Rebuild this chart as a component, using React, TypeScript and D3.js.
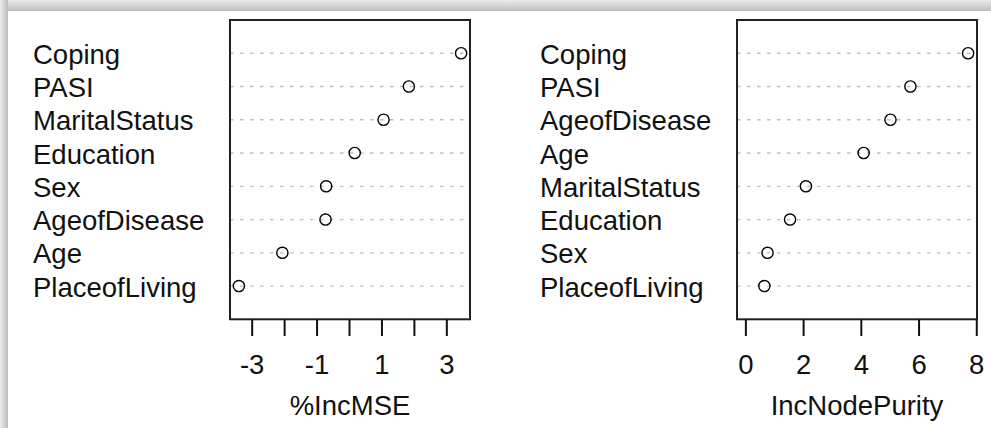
import React from "react";
import * as d3 from "d3";

// ---- Data (bottom row first, as in R's dotchart) ----
const mseLabels = ["PlaceofLiving", "Age", "AgeofDisease", "Sex", "Education", "MaritalStatus", "PASI", "Coping"];
const mseValues = [-3.41, -2.07, -0.74, -0.72, 0.16, 1.05, 1.83, 3.44];
const mseTicks = [-3, -2, -1, 0, 1, 2, 3];
const mseTickLabels = [-3, -1, 1, 3];
const mseTitle = "%IncMSE";

const purityLabels = ["PlaceofLiving", "Sex", "Education", "MaritalStatus", "Age", "AgeofDisease", "PASI", "Coping"];
const purityValues = [0.64, 0.75, 1.53, 2.08, 4.08, 5.01, 5.7, 7.7];
const purityTicks = [0, 2, 4, 6, 8];
const purityTickLabels = [0, 2, 4, 6, 8];
const purityTitle = "IncNodePurity";

const W = 991;
const H = 428;
const FONT = "'Liberation Sans', Arial, sans-serif";
const FS = 27.5;

type PanelProps = {
  labels: string[];
  values: number[];
  ticks: number[];
  tickLabels: number[];
  title: string;
  boxLeft: number;
  boxRight: number;
  labelX: number;
  zeroMin: boolean;
};

function Panel({ labels, values, ticks, tickLabels, title, boxLeft, boxRight, labelX, zeroMin }: PanelProps) {
  const boxTop = 20;
  const boxBottom = 319.3;
  let lo = d3.min(values) as number;
  const hi = d3.max(values) as number;
  if (zeroMin && lo > 0) lo = 0;
  const pad = (hi - lo) * 0.04;
  const x = d3.scaleLinear().domain([lo - pad, hi + pad]).range([boxLeft, boxRight]);
  const y = d3.scaleLinear().domain([0, labels.length + 1]).range([boxBottom, boxTop]);
  const cx = (boxLeft + boxRight) / 2;
  return (
    <g>
      {labels.map((lab, i) => (
        <g key={lab}>
          <line
            x1={boxLeft}
            x2={boxRight}
            y1={y(i + 1)}
            y2={y(i + 1)}
            stroke="#bebebe"
            strokeWidth={1.3}
            strokeDasharray="3.5 6.5"
          />
          <text x={labelX} y={y(i + 1) + 10.5} fontFamily={FONT} fontSize={FS} fill="#111">
            {lab}
          </text>
        </g>
      ))}
      {values.map((v, i) => (
        <circle key={i} cx={x(v)} cy={y(i + 1)} r={5.6} fill="none" stroke="#000" strokeWidth={1.4} />
      ))}
      <rect
        x={boxLeft}
        y={boxTop}
        width={boxRight - boxLeft}
        height={boxBottom - boxTop}
        fill="none"
        stroke="#222"
        strokeWidth={2}
      />
      {ticks.map((t) => (
        <line key={t} x1={x(t)} x2={x(t)} y1={boxBottom} y2={336} stroke="#111" strokeWidth={2} />
      ))}
      {tickLabels.map((t) => (
        <text key={t} x={x(t)} y={374} textAnchor="middle" fontFamily={FONT} fontSize={FS} fill="#111">
          {t}
        </text>
      ))}
      <text x={cx} y={415} textAnchor="middle" fontFamily={FONT} fontSize={FS} fill="#111">
        {title}
      </text>
    </g>
  );
}

export default function App() {
  return (
    <svg
      width={W}
      height={H}
      style={{ position: "absolute", left: 0, top: 0, display: "block" }}
    >
      <defs>
        <linearGradient id="shTop" x1="0" y1="0" x2="0" y2="1">
          <stop offset="0" stopColor="#ececec" />
          <stop offset="1" stopColor="#bdbdbd" />
        </linearGradient>
        <linearGradient id="shLeft" x1="0" y1="0" x2="1" y2="0">
          <stop offset="0" stopColor="#ececec" />
          <stop offset="1" stopColor="#bdbdbd" />
        </linearGradient>
      </defs>
      <rect x={0} y={0} width={W} height={H} fill="#fff" />
      <rect x={0} y={0} width={W} height={11} fill="url(#shTop)" />
      <rect x={0} y={0} width={8} height={H} fill="url(#shLeft)" />
      <Panel
        labels={mseLabels}
        values={mseValues}
        ticks={mseTicks}
        tickLabels={mseTickLabels}
        title={mseTitle}
        boxLeft={230}
        boxRight={470}
        labelX={33}
        zeroMin={false}
      />
      <Panel
        labels={purityLabels}
        values={purityValues}
        ticks={purityTicks}
        tickLabels={purityTickLabels}
        title={purityTitle}
        boxLeft={737}
        boxRight={977}
        labelX={540}
        zeroMin={true}
      />
    </svg>
  );
}
